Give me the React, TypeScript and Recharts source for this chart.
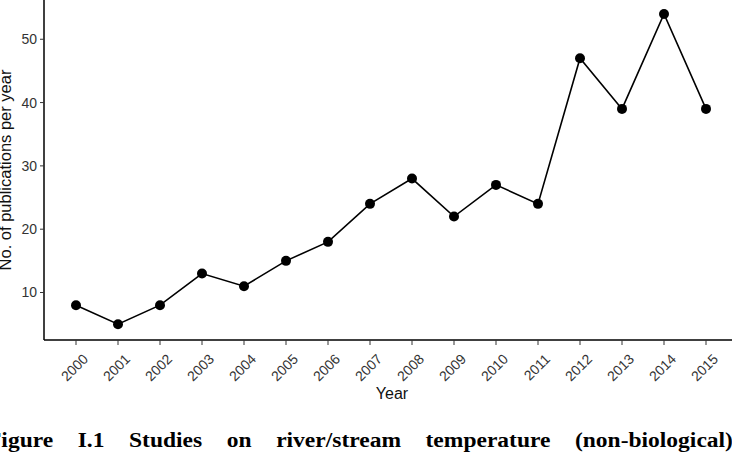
import { LineChart, Line, XAxis, YAxis, Label } from 'recharts';

const years = ['2000','2001','2002','2003','2004','2005','2006','2007','2008','2009','2010','2011','2012','2013','2014','2015'];
const pubs = [8, 5, 8, 13, 11, 15, 18, 24, 28, 22, 27, 24, 47, 39, 54, 39];
const yTicks = [10, 20, 30, 40, 50];
const captionWords = ['Figure', 'I.1', 'Studies', 'on', 'river/stream', 'temperature', '(non-biological)'];

const data = years.map((y, i) => ({ year: y, n: pubs[i] }));

const font = '"Liberation Sans", Arial, sans-serif';

const XTick = ({ x, y, payload }: any) => {
  const ax = x + 13, ay = y + 13;
  return (
    <text x={ax} y={ay} textAnchor="end" fontSize={14} fontFamily={font} fill="#333"
      transform={`rotate(-45, ${ax}, ${ay})`}>{payload.value}</text>
  );
};

export default function App() {
  return (
    <div style={{position:'absolute', left:0, top:0, width:732, height:460, overflow:'hidden', background:'#fff'}}>
      <LineChart width={732} height={460} data={data} margin={{top:0,right:0,bottom:0,left:0}}>
        <XAxis dataKey="year" height={120} padding={{left:32,right:26}} tickSize={5} tickMargin={2}
          axisLine={{stroke:'#000', strokeWidth:1.5}} tickLine={{stroke:'#333'}} tick={<XTick/>} interval={0}>
          <Label value="Year" position="insideTop" offset={48} dx={4} fontSize={16} fontFamily={font} fill="#111"/>
        </XAxis>
        <YAxis type="number" width={44} domain={[2.5, 56.2]} allowDataOverflow ticks={yTicks} tickSize={4} tickMargin={3}
          axisLine={{stroke:'#000', strokeWidth:1.5}} tickLine={{stroke:'#333'}}
          tick={{fontSize:14, fontFamily:font, fill:'#333'}}>
          <Label value="No. of publications per year" angle={-90} position="center" dx={-17} fontSize={16.5} fontFamily={font} fill="#111"/>
        </YAxis>
        <Line dataKey="n" stroke="#000" strokeWidth={1.6} isAnimationActive={false}
          dot={{r:5, fill:'#000', stroke:'#000', strokeWidth:0}} activeDot={false}/>
      </LineChart>
      <div style={{position:'absolute', left:-13, top:427, width:746, fontFamily:'"Liberation Serif", "Times New Roman", serif',
        fontWeight:'bold', fontSize:23.5, lineHeight:'24px', color:'#000', whiteSpace:'nowrap',
        display:'flex', justifyContent:'space-between', transform:'scaleY(0.9)', transformOrigin:'0 20px'}}>
        {captionWords.map(w => <span key={w}>{w}</span>)}
      </div>
    </div>
  );
}
